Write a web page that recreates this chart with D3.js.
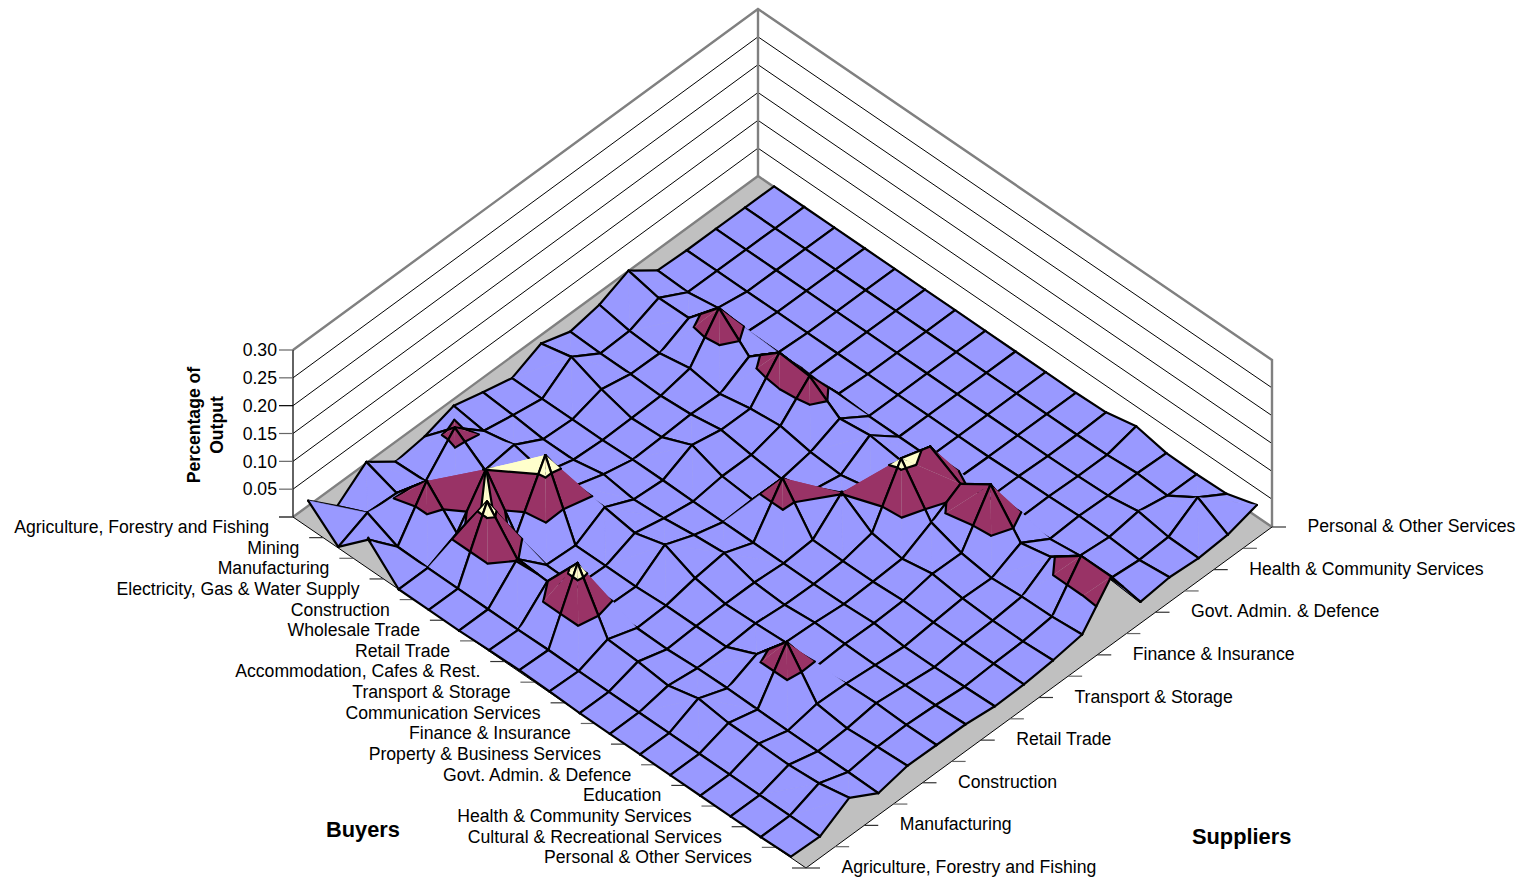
<!DOCTYPE html>
<html>
<head>
<meta charset="utf-8">
<title>Input-output surface</title>
<script src="https://cdn.jsdelivr.net/npm/d3@7/dist/d3.min.js"></script>
<style>
  html, body { margin: 0; padding: 0; background: #fff; }
  svg { display: block; }
  text { font-family: "Liberation Sans", Arial, sans-serif; fill: #000; }
</style>
</head>
<body>
<svg id="chart" width="1521" height="881"></svg>
<script>
// Industry sectors used on both horizontal axes
const buyers = ["Agriculture, Forestry and Fishing","Mining","Manufacturing","Electricity, Gas & Water Supply","Construction","Wholesale Trade","Retail Trade","Accommodation, Cafes & Rest.","Transport & Storage","Communication Services","Finance & Insurance","Property & Business Services","Govt. Admin. & Defence","Education","Health & Community Services","Cultural & Recreational Services","Personal & Other Services"];
const suppliers = buyers.slice();
const valueTicks = [0.05, 0.10, 0.15, 0.20, 0.25, 0.30];
const bandLevels = [0, 0.05, 0.10, 0.15];
const bandColors = ["#9999FF", "#993366", "#FFFFCC"];

// Share of output: one row per supplier, one entry per buyer
const shareBySupplier = [
  [.048,.002,.052,0,0,0,.002,.003,.002,0,0,0,0,0,0,0,.002],
  [0,.025,.001,0,0,0,0,.001,0,0,0,0,0,0,0,0,0],
  [.041,.022,.081,.024,.118,.052,.049,.119,.019,.016,.010,.024,.017,.017,.016,.020,.031],
  [.003,.005,.020,.101,.020,.003,.002,.002,.001,0,.003,.004,.003,.002,.002,.002,.001],
  [.010,.063,.024,.020,.125,0,0,0,.003,.003,.003,.027,.086,.012,.005,.009,.012],
  [.027,.019,.031,.018,.031,.030,.021,.037,.014,.005,.007,.010,.003,.010,.012,.010,.011],
  [.013,.009,.003,.003,.014,.006,.009,.016,.021,.005,.002,.007,.006,.005,.006,.007,.010],
  [0,0,0,0,.002,.002,.001,.001,.001,.001,.001,.002,.005,0,0,.002,.004],
  [.024,.037,.016,.001,.004,.027,.008,.003,.079,.005,.004,.004,.007,.005,.005,.005,.005],
  [.007,.005,.005,.003,.007,.016,.008,.002,.018,.052,.016,.007,.017,.010,.007,.007,.010],
  [.017,.007,.004,.014,.005,.016,.022,.012,.008,.020,.112,.034,.016,.008,.012,.013,.018],
  [.040,.028,.029,.084,.034,.078,.073,.034,.041,.034,.095,.065,.101,.033,.045,.084,.084],
  [.002,0,.009,.004,.003,0,.003,0,0,0,.001,.002,.002,.002,.009,.005,0],
  [0,0,0,0,0,0,0,0,0,0,0,.002,.003,.005,.004,0,.006],
  [0,0,0,0,0,0,0,0,0,0,0,0,.001,.003,.012,.003,.002],
  [0,0,0,0,0,0,0,0,0,0,0,0,.001,.005,.002,.036,.006],
  [0,0,0,0,0,0,0,0,0,0,0,.002,.014,.003,.002,.004,.021]
];

// Floor corners of the oblique box
const cornerL = [293, 517], cornerF = [806, 868], cornerR = [1272, 527], cornerB = [758, 176];
const buyerScale = d3.scaleBand().domain(buyers).range([0, 1]);
const supplierScale = d3.scalePoint().domain(suppliers).range([0, 1]);
const heightScale = d3.scaleLinear().domain([0, 0.30]).range([0, 167]);
const alongBuyers = [d3.scaleLinear().domain([0, 1]).range([0, cornerF[0] - cornerL[0]]), d3.scaleLinear().domain([0, 1]).range([0, cornerF[1] - cornerL[1]])];
const alongSuppliers = [d3.scaleLinear().domain([0, 1]).range([0, cornerR[0] - cornerF[0]]), d3.scaleLinear().domain([0, 1]).range([0, cornerR[1] - cornerF[1]])];

function floorPoint(bu, su, v = 0) {
  return [cornerL[0] + alongBuyers[0](bu) + alongSuppliers[0](su),
          cornerL[1] + alongBuyers[1](bu) + alongSuppliers[1](su) - heightScale(v)];
}
const vertex = (i, j) => {
  const v = shareBySupplier[j][i];
  const bu = buyerScale(buyers[i]) + buyerScale.bandwidth() / 2;
  const p = floorPoint(bu, supplierScale(suppliers[j]), v);
  return { x: p[0], y: p[1], v };
};

const svg = d3.select("#chart");
const meshLine = d3.line().x(d => d.x).y(d => d.y);
const meshPoly = d3.line().x(d => d.x).y(d => d.y).curve(d3.curveLinearClosed);
const openPath = pts => d3.line()(pts);
const closedPath = pts => d3.line().curve(d3.curveLinearClosed)(pts);
const labelSize = 17.65;

// Walls and floor
const wallTop = p => [p[0], p[1] - heightScale(0.30)];
svg.append("path").attr("d", closedPath([cornerL, wallTop(cornerL), wallTop(cornerB), cornerB])).attr("fill", "#fff");
svg.append("path").attr("d", closedPath([cornerB, wallTop(cornerB), wallTop(cornerR), cornerR])).attr("fill", "#fff");
svg.append("path").attr("d", closedPath([cornerL, cornerB, cornerR, cornerF])).attr("fill", "#C0C0C0");

valueTicks.slice(0, -1).forEach(t => {
  const h = heightScale(t);
  svg.append("path").attr("d", openPath([[cornerL[0], cornerL[1] - h], [cornerB[0], cornerB[1] - h], [cornerR[0], cornerR[1] - h]]))
    .attr("fill", "none").attr("stroke", "#000").attr("stroke-width", 1);
});
svg.append("path").attr("d", openPath([wallTop(cornerL), wallTop(cornerB), wallTop(cornerR), cornerR]))
  .attr("fill", "none").attr("stroke", "#808080").attr("stroke-width", 2.4);
svg.append("path").attr("d", openPath([cornerL, cornerB, cornerR]))
  .attr("fill", "none").attr("stroke", "#808080").attr("stroke-width", 2.4);
svg.append("path").attr("d", openPath([cornerB, wallTop(cornerB)]))
  .attr("fill", "none").attr("stroke", "#808080").attr("stroke-width", 2.4);
svg.append("path").attr("d", openPath([cornerL, cornerF, cornerR]))
  .attr("fill", "none").attr("stroke", "#000").attr("stroke-width", 1);
svg.append("path").attr("d", openPath([cornerL, wallTop(cornerL)]))
  .attr("fill", "none").attr("stroke", "#222").attr("stroke-width", 1.4);

// Value axis
const axisG = svg.append("g");
[0].concat(valueTicks).forEach(t => {
  const y = cornerL[1] - heightScale(t);
  axisG.append("line").attr("x1", cornerL[0] - 14).attr("x2", cornerL[0]).attr("y1", y).attr("y2", y)
    .attr("stroke", t === 0 || t === 0.2 ? "#000" : "#666").attr("stroke-width", 1.2);
  if (t > 0) axisG.append("text").attr("x", cornerL[0] - 16).attr("y", y + 6.3)
    .attr("text-anchor", "end").attr("font-size", labelSize).text(d3.format(".2f")(t));
});

// Buyer axis: ticks bound each band, labels sit at its centre
const stepB = buyerScale.step();
d3.range(buyers.length + 1).forEach(k => {
  const p = floorPoint(k * stepB, 0);
  axisG.append("line").attr("x1", p[0] - 14).attr("x2", p[0]).attr("y1", p[1]).attr("y2", p[1])
    .attr("stroke", k % 2 ? "#333" : "#666").attr("stroke-width", 1.2);
});
buyers.forEach((name) => {
  const p = floorPoint(buyerScale(name) + buyerScale.bandwidth() / 2, 0);
  axisG.append("text").attr("x", p[0] - 39).attr("y", p[1] + 5.6)
    .attr("text-anchor", "end").attr("font-size", labelSize).text(name);
});

// Supplier axis: a tick on every sector, a label on every second one
suppliers.forEach((name, k) => {
  const p = floorPoint(1, supplierScale(name));
  axisG.append("line").attr("x1", p[0]).attr("x2", p[0] + 14).attr("y1", p[1]).attr("y2", p[1])
    .attr("stroke", k % 2 ? "#666" : "#333").attr("stroke-width", 1.2);
  if (k % 2 === 0) axisG.append("text").attr("x", p[0] + 35.5).attr("y", p[1] + 5)
    .attr("font-size", labelSize).text(name);
});

// Titles
svg.append("text").attr("x", 326).attr("y", 837).attr("font-size", 21.8).attr("font-weight", "bold").text("Buyers");
svg.append("text").attr("x", 1192).attr("y", 844).attr("font-size", 21.8).attr("font-weight", "bold").text("Suppliers");
const titleY = svg.append("text").attr("transform", "translate(200,425) rotate(-90)")
  .attr("text-anchor", "middle").attr("font-size", 17.6).attr("font-weight", "bold");
titleY.append("tspan").attr("x", 0).attr("y", 0).text("Percentage of");
titleY.append("tspan").attr("x", 0).attr("y", 23).text("Output");

// Clip a facet to one value band
function clipAt(poly, level, keepAbove) {
  const out = [];
  poly.forEach((a, n) => {
    const b = poly[(n + 1) % poly.length];
    const ina = keepAbove ? a.v >= level : a.v <= level;
    const inb = keepAbove ? b.v >= level : b.v <= level;
    if (ina) out.push(a);
    if (ina !== inb) {
      const t = (level - a.v) / (b.v - a.v);
      out.push({ x: a.x + t * (b.x - a.x), y: a.y + t * (b.y - a.y), v: level });
    }
  });
  return out;
}
function contourSegment(tri, level) {
  const pts = [];
  tri.forEach((a, n) => {
    const b = tri[(n + 1) % 3];
    if ((a.v < level) !== (b.v < level)) {
      const t = (level - a.v) / (b.v - a.v);
      pts.push({ x: a.x + t * (b.x - a.x), y: a.y + t * (b.y - a.y) });
    }
  });
  return pts.length === 2 ? pts : null;
}

const surface = svg.append("g").attr("stroke-linejoin", "round").attr("stroke-linecap", "round");
function edge(a, b) {
  surface.append("path").attr("d", meshLine([a, b])).attr("fill", "none").attr("stroke", "#000").attr("stroke-width", 2.2);
}
function facet(tri) {
  bandColors.forEach((color, k) => {
    let piece = clipAt(tri, bandLevels[k], true);
    if (piece.length) piece = clipAt(piece, bandLevels[k + 1], false);
    if (piece.length >= 3) {
      // A hairline in the fill colour keeps the blue seams faint; red seams stay visible
      surface.append("path").attr("d", meshPoly(piece)).attr("fill", color)
        .attr("stroke", k === 0 ? color : "none").attr("stroke-width", 0.5);
    }
  });
  [0.05, 0.10].forEach(level => {
    const seg = contourSegment(tri, level);
    if (seg) edge(seg[0], seg[1]);
  });
}

// Painter's order: farthest cell first
const cells = [];
d3.range(buyers.length - 1).forEach(i => d3.range(suppliers.length - 1).forEach(j => cells.push([i, j])));
cells.sort((p, q) => d3.ascending(p[0] - p[1], q[0] - q[1]) || d3.ascending(p[0], q[0]));

cells.forEach(([i, j]) => {
  const a = vertex(i, j), b = vertex(i, j + 1), c = vertex(i + 1, j + 1), d = vertex(i + 1, j);
  const vals = [a.v, b.v, c.v, d.v];
  const hi = d3.max(vals), lo = d3.min(vals);
  if (hi - lo < 0.02 && hi < 0.05) {
    surface.append("path").attr("d", meshPoly([a, b, c, d])).attr("fill", bandColors[0]);
    edge(a, b); edge(b, c); edge(a, d); edge(d, c);
  } else if (a.v === hi || c.v === hi) {
    // ridge across a-c: the far facet and its edges go first so the near facet can cover them
    facet([a, b, c]);
    edge(a, b); edge(b, c);
    facet([a, c, d]);
    edge(a, d); edge(d, c);
  } else {
    facet([a, b, d]);
    facet([b, c, d]);
    edge(a, b); edge(b, c); edge(a, d); edge(d, c);
  }
});
</script>
</body>
</html>
